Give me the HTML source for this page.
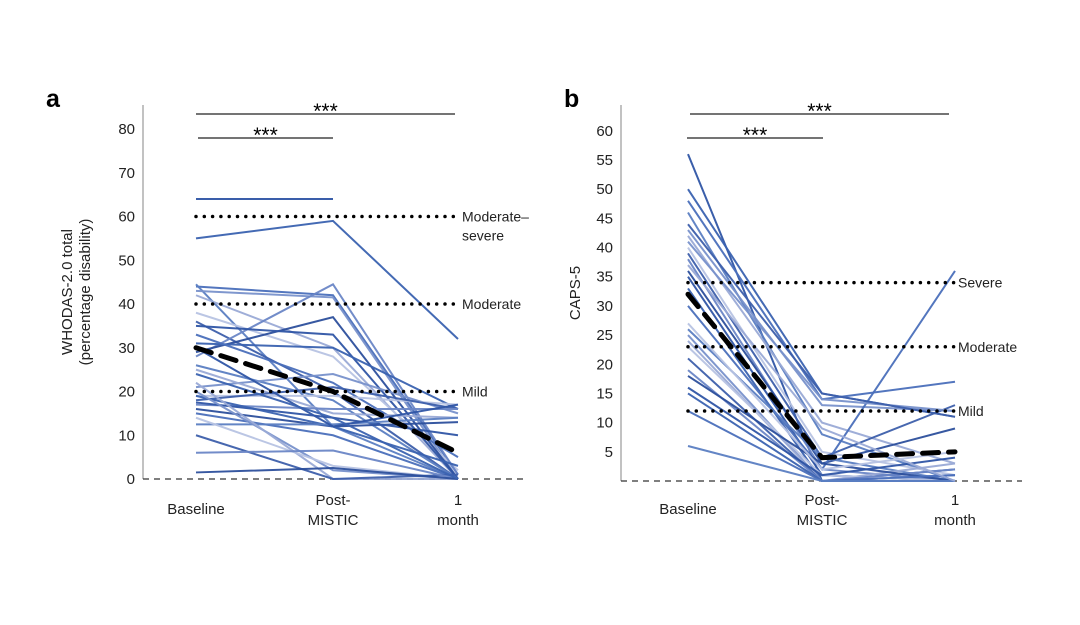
<!DOCTYPE html>
<html><head><meta charset="utf-8">
<style>
html,body{margin:0;padding:0;background:#fff;}
svg{display:block;font-family:"Liberation Sans",sans-serif;}
</style></head>
<body>
<svg id="chart" width="1080" height="625" viewBox="0 0 1080 625" xmlns="http://www.w3.org/2000/svg">
<g id="pa"></g>
<g id="pb"></g>
</svg>
<script>
const timepoints = ["Baseline", "Post-\nMISTIC", "1\nmonth"];
// Panel a: WHODAS-2.0 (null = missing)
const aTicks = [0,10,20,30,40,50,60,70,80];
const aSeries = [
 [64,64,null],[55,59,32],[44,42,1],[44.5,12,0],[43,41.5,0],[42,30,0],[38,28,2],[36,20,0],
 [28,44.5,1],[29,37,0],[35,33,0],[31,30,16],[33,22,5],[26,18,0],[21,24,15],[25,15,14],
 [19,19,17],[18,21,16],[17,16,16],[16,12,13],[17.5,14,10],[19,12,3],[15,10,0],[12.5,12.5,14],
 [20,2,0],[22,0,0],[14,3,0],[10,0,1],[6,6.5,0],[1.5,2.5,0],[30,12,17],[24,14,0]
];
const aMean = [30,20,6];
const aThresh = [[60,"Moderate–","severe"],[40,"Moderate",""],[20,"Mild",""]];
// Panel b: CAPS-5
const bTicks = [5,10,15,20,25,30,35,40,45,50,55,60];
const bSeries = [
 [56,0,1],[50,15,11],[48,14,17],[46,8,0],[43,13,12],[42,10,3],[40,5,1],[39,4,13],[38,2,0],
 [36,3,9],[35,1,0],[33,0,2],[30,2,36],[26,4,0],[25,0,1],[24,0,3],[23,1,0],[21,0,0],[19,0,2],
 [18,3,0],[16,1,4],[15,0,0],[12,0,1],[6,0,0],[41,14,12],[37,9,0],[27,2,5],[44,15,11]
];
const bMean = [32,4,5];
const bThresh = [[34,"Severe"],[23,"Moderate"],[12,"Mild"]];

const NS="http://www.w3.org/2000/svg";
function mk(tag,attrs,parent){const e=document.createElementNS(NS,tag);for(const k in attrs)e.setAttribute(k,attrs[k]);parent.appendChild(e);return e;}
const palette=["#2f55a5","#3a62b0","#4a6fba","#5b7ec2","#7891cb","#9aaad6","#b7c3e3","#3d5fab","#6a86c6","#2c4f9c"];

function drawPanel(g, cfg){
  const {xs,y0,kY,series,mean,ticks,axisX,axisTop,label,labelX,titleLines,thresh,dashEnd,brackets,threshLabelX} = cfg;
  const Y=v=>y0-v*kY;
  let t=mk("text",{x:labelX,y:107,"font-size":25,"font-weight":"bold",fill:"#000"},g);t.textContent=label;
  
  
  let ax=mk("line",{x1:axisX,y1:axisTop,x2:axisX,y2:y0,stroke:"#999","stroke-width":1.2},g);
  
  
  let bl=mk("line",{x1:axisX,y1:y0,x2:dashEnd,y2:y0,stroke:"#333","stroke-width":1.2,"stroke-dasharray":"6,5"},g);
  
  
  ticks.forEach(v=>{let tt=mk("text",{x:axisX-8,y:Y(v)+5,"font-size":15,"text-anchor":"end",fill:"#222"},g);tt.textContent=v;
    
    });
  let tg=mk("text",{transform:`translate(${cfg.titleX},${(axisTop+y0)/2}) rotate(-90)`,"font-size":15,"text-anchor":"middle",fill:"#222"},g);
  
  
  titleLines.forEach((s,i)=>{let ts=mk("tspan",{x:0,dy:i?18:0},tg);ts.textContent=s;});
  timepoints.forEach((s,i)=>{const parts=s.split("\n");
    let tx=mk("text",{x:xs[i],y:parts.length>1?cfg.xlY-9:cfg.xlY,"font-size":15,"text-anchor":"middle",fill:"#222"},g);
    
    
    parts.forEach((p,j)=>{let ts=mk("tspan",{x:xs[i],dy:j?20:0},tx);ts.textContent=p;});});
  series.forEach((s,i)=>{const pts=[];s.forEach((v,j)=>{if(v!==null)pts.push(xs[j]+","+Y(v));});
    let pl=mk("polyline",{points:pts.join(" "),fill:"none",stroke:palette[i%palette.length],"stroke-width":2,"stroke-opacity":0.95},g);
    
    });
  thresh.forEach(th=>{let l=mk("line",{x1:xs[0],y1:Y(th[0]),x2:xs[2],y2:Y(th[0]),stroke:"#000","stroke-width":3.5,"stroke-linecap":"round","stroke-dasharray":"0,8.3"},g);
    
    
    let tl=mk("text",{x:threshLabelX,y:Y(th[0])+5,"font-size":14,fill:"#222"},g);tl.textContent=th[1];
    
    
    if(th[2]){let t2=mk("text",{x:threshLabelX,y:Y(th[0])+24,"font-size":14,fill:"#222"},g);t2.textContent=th[2];
      
      }});
  let m=mk("polyline",{points:mean.map((v,j)=>xs[j]+","+Y(v)).join(" "),fill:"none",stroke:"#000","stroke-width":5,"stroke-dasharray":"16,10","stroke-linecap":"round"},g);
  
  
  brackets.forEach(b=>{let l=mk("line",{x1:b[0],y1:b[2],x2:b[1],y2:b[2],stroke:"#222","stroke-width":1.2},g);
    
    
    let s=mk("text",{x:(b[0]+b[1])/2,y:b[2]+4,"font-size":21,"text-anchor":"middle",fill:"#000"},g);s.textContent="***";
    
    });
}
drawPanel(document.getElementById("pa"),{xs:[196,333,458],y0:479,kY:350/80,series:aSeries,mean:aMean,ticks:aTicks,
  axisX:143,axisTop:105,label:"a",labelX:46,titleX:72,titleLines:["WHODAS-2.0 total","(percentage disability)"],
  thresh:aThresh,dashEnd:525,brackets:[[196,455,114],[198,333,138]],threshLabelX:462,xlY:514});
drawPanel(document.getElementById("pb"),{xs:[688,822,955],y0:481,kY:321/55,series:bSeries,mean:bMean,ticks:bTicks,
  axisX:621,axisTop:105,label:"b",labelX:564,titleX:580,titleLines:["CAPS-5"],
  thresh:bThresh,dashEnd:1022,brackets:[[690,949,114],[687,823,138]],threshLabelX:958,xlY:514});
</script>
</body></html>
